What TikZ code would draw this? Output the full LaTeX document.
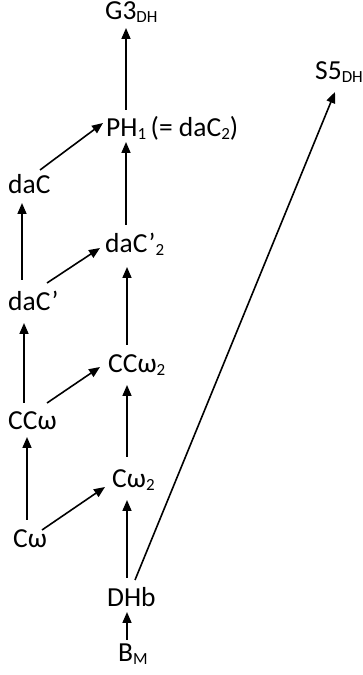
\documentclass[tikz,border=0pt]{standalone}
\usepackage{fontspec}
\setmainfont{Carlito}
\usetikzlibrary{arrows.meta}
\newcommand{\lsub}[1]{\raisebox{-3pt}{\fontsize{17}{17}\selectfont #1}}
\begin{document}
\begin{tikzpicture}[x=1pt,y=1pt,
  lbl/.style={anchor=base west,inner sep=0pt,font=\fontsize{27.5}{32}\selectfont},
  arr/.style={-{Triangle[length=11pt,width=9pt]},line width=1.6pt}]
\useasboundingbox[fill=white] (0,0) rectangle (363,675);
\node[lbl] (g3) at (105,655) {G3\lsub{DH}};
\node[lbl] (s5) at (315,595) {S5\lsub{DH}};
\node[lbl] (ph) at (106,538) {PH\lsub{1}\,(= daC\lsub{2})};
\node[lbl] (dac) at (8,481) {daC};
\node[lbl] (dacp2) at (105,422) {daC\textquoteright\lsub{2}};
\node[lbl] (dacp) at (8,364) {daC\textquoteright};
\node[lbl] (ccw2) at (108,302) {CCω\lsub{2}};
\node[lbl] (ccw) at (8,245) {CCω};
\node[lbl] (cw2) at (112,187) {Cω\lsub{2}};
\node[lbl] (cw) at (13,127) {Cω};
\node[lbl] (dhb) at (107,68) {DHb};
\node[lbl] (bm) at (118,13) {B\lsub{M}};
\draw[arr] ([shift={(20,27)}]ph.base west) -- ([shift={(21,-8)}]g3.base west);
\draw[arr] ([shift={(32,24)}]dac.base west) -- ([shift={(-3,14)}]ph.base west);
\draw[arr] ([shift={(28,27)}]dhb.base west) -- ([shift={(20,-12)}]s5.base west);
\draw[arr] ([shift={(14,31)}]dacp.base west) -- ([shift={(14,-9)}]dac.base west);
\draw[arr] ([shift={(21,28)}]dacp2.base west) -- ([shift={(20,-5)}]ph.base west);
\draw[arr] ([shift={(39,28)}]dacp.base west) -- ([shift={(-5,5)}]dacp2.base west);
\draw[arr] ([shift={(19,28)}]ccw2.base west) -- ([shift={(22,-14)}]dacp2.base west);
\draw[arr] ([shift={(16,27)}]ccw.base west) -- ([shift={(16,-12)}]dacp.base west);
\draw[arr] ([shift={(39,27)}]ccw.base west) -- ([shift={(-8,6)}]ccw2.base west);
\draw[arr] ([shift={(14,28)}]cw.base west) -- ([shift={(19,-7)}]ccw.base west);
\draw[arr] ([shift={(29,18)}]cw.base west) -- ([shift={(-7,1)}]cw2.base west);
\draw[arr] ([shift={(15,31)}]cw2.base west) -- ([shift={(19,-12)}]ccw2.base west);
\draw[arr] ([shift={(20,29)}]dhb.base west) -- ([shift={(15,-12)}]cw2.base west);
\draw[arr] ([shift={(9,22)}]bm.base west) -- ([shift={(20,-5)}]dhb.base west);
\end{tikzpicture}
\end{document}
